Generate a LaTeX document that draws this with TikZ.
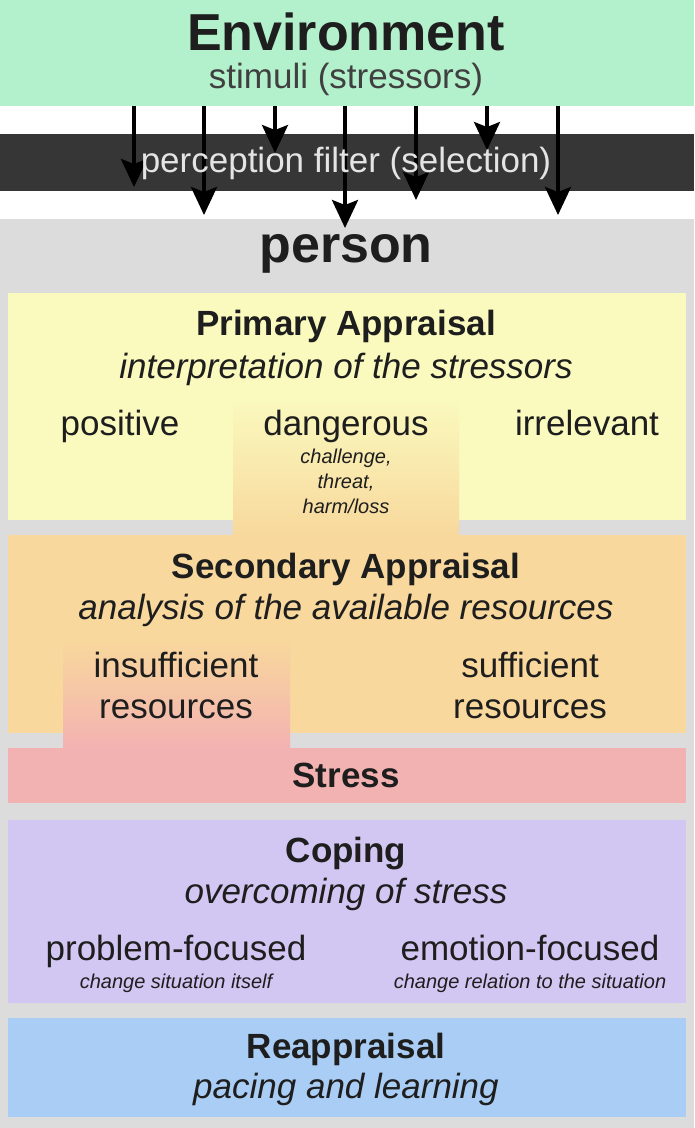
\documentclass[tikz,border=0pt]{standalone}
\usepackage{fontspec}
\setmainfont{Liberation Sans}
\usetikzlibrary{arrows.meta}
\definecolor{envgreen}{RGB}{179,240,204}
\definecolor{filterdark}{RGB}{54,54,54}
\definecolor{filtertext}{RGB}{228,228,228}
\definecolor{persongray}{RGB}{220,220,220}
\definecolor{primyellow}{RGB}{250,249,190}
\definecolor{secorange}{RGB}{248,216,156}
\definecolor{stresspink}{RGB}{243,178,178}
\definecolor{copelav}{RGB}{210,198,242}
\definecolor{reblue}{RGB}{169,205,245}
\definecolor{txt}{RGB}{30,30,30}
\tikzset{
  big/.style={font=\bfseries\fontsize{52}{60}\selectfont, text=txt, anchor=base, inner sep=0pt},
  head/.style={font=\bfseries\fontsize{35}{40}\selectfont, text=txt, anchor=base, inner sep=0pt},
  body/.style={font=\fontsize{35}{40}\selectfont, text=txt, anchor=base, inner sep=0pt},
  ital/.style={font=\itshape\fontsize{35}{40}\selectfont, text=txt, anchor=base, inner sep=0pt},
  small/.style={font=\itshape\fontsize{20}{24}\selectfont, text=txt, anchor=base, inner sep=0pt},
  stim/.style={-{Stealth[length=28pt,width=26pt,inset=5pt]}, line width=3.5pt, black},
}
\begin{document}
\begin{tikzpicture}[x=1pt,y=-1pt]
\useasboundingbox (0,0) rectangle (694,1128);
\fill[white] (0,0) rectangle (694,1128);
% bands
\fill[envgreen] (0,0) rectangle (694,106);
\fill[filterdark] (0,134) rectangle (694,191);
\fill[persongray] (0,219) rectangle (694,1128);
% boxes
\fill[primyellow] (8,293) rectangle (686,520);
\fill[secorange] (8,535) rectangle (686,733);
\fill[stresspink] (8,748) rectangle (686,803);
\fill[copelav] (8,820) rectangle (686,1003);
\fill[reblue] (8,1018) rectangle (686,1117);
% gradients
\shade[top color=primyellow, bottom color=secorange] (233,400) rectangle (459,536);
\shade[top color=secorange, bottom color=stresspink] (63,640) rectangle (290,749);
% environment
\node[big] (env) at (346,50) {Environment};
\node[body, text=black!75] (stimuli) at (346,88) {stimuli (stressors)};
% arrows
\foreach \i/\x/\y in {1/134/187, 2/204/215, 3/275/153, 4/345/228, 5/416/200, 6/487/150, 7/558/215}{
  \coordinate (s\i) at (\x,106);
  \coordinate (e\i) at (\x,\y);
}
\foreach \i in {1,...,7}{ \draw[stim] (s\i) -- (e\i); }
% filter text (over the arrows)
\node[body, text=filtertext] (filter) at (346,172) {perception filter (selection)};
% person
\node[big] (person) at (346,262) {person};
% primary
\node[head] (prim) at (346,335) {Primary Appraisal};
\node[ital] (interp) at (346,378) {interpretation of the stressors};
\node[body] (positive) at (120,435) {positive};
\node[body] (danger) at (346,435) {dangerous};
\node[body] (irrel) at (587,435) {irrelevant};
\node[small] (chal) at (346,463) {challenge,};
\node[small] (threat) at (346,488) {threat,};
\node[small] (harm) at (346,513) {harm/loss};
% secondary
\node[head] (sec) at (346,578) {Secondary Appraisal};
\node[ital] (analysis) at (346,619) {analysis of the available resources};
\node[body] (insuf1) at (176,677) {insufficient};
\node[body] (insuf2) at (176,718) {resources};
\node[body] (suf1) at (530,677) {sufficient};
\node[body] (suf2) at (530,718) {resources};
% stress
\node[head] (stress) at (346,787) {Stress};
% coping
\node[head] (coping) at (346,862) {Coping};
\node[ital] (overc) at (346,903) {overcoming of stress};
\node[body] (prob) at (176,960) {problem-focused};
\node[body] (emot) at (530,960) {emotion-focused};
\node[small] (probs) at (176,988) {change situation itself};
\node[small] (emots) at (530,988) {change relation to the situation};
% reappraisal
\node[head] (reap) at (346,1058) {Reappraisal};
\node[ital] (pacing) at (346,1098) {pacing and learning};
\end{tikzpicture}
\end{document}
